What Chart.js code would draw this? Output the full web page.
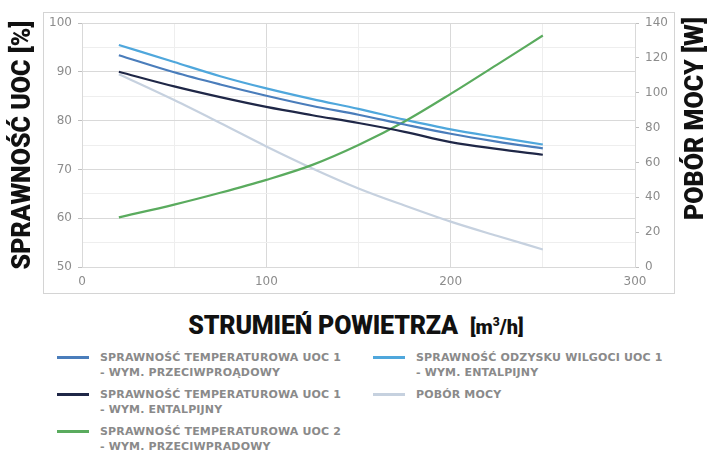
<!DOCTYPE html>
<html>
<head>
<meta charset="utf-8">
<script src="https://cdn.jsdelivr.net/npm/chart.js@4.4.1/dist/chart.umd.min.js"></script>
<style>
  body { margin: 0; background: #fff; }
  #wrap { position: relative; width: 708px; height: 450px; overflow: hidden; }
  #chartBox { position: absolute; left: 0; top: 0; width: 708px; height: 300px; }
  #xtitle { position: absolute; left: 0; top: 306px; width: 712px; text-align: center;
    font-family: Roboto, sans-serif; font-weight: 900; font-size: 25px; color: #111; line-height: 32px; letter-spacing: -0.2px; }
  #xtitle .unit { font-size: 20px; margin-left: 12px; letter-spacing: 0; }
  .col { position: absolute; top: 350px; }
  .item { position: relative; padding-left: 43px; margin-bottom: 7px;
    font-family: "DejaVu Sans", sans-serif; font-weight: bold; font-size: 11px; line-height: 15px; color: #8a8a8a; letter-spacing: 0.15px; }
  .item .sw { position: absolute; left: 0; top: 6px; width: 32px; height: 3px; }
</style>
</head>
<body>
<div id="wrap">
  <div id="chartBox"><canvas id="myChart"></canvas></div>
  <div id="xtitle">STRUMIEŃ POWIETRZA<span class="unit">[m<sup style="font-size:12px">3</sup>/h]</span></div>
  <div class="col" id="col1" style="left:57px"></div>
  <div class="col" id="col2" style="left:373px"></div>
</div>
<script>
// air flow [m3/h]
var airflow = [20, 50, 75, 100, 125, 150, 175, 200, 225, 250];

// efficiency [%]
var tempUoc1Counter = [93.4, 89.9, 87.4, 85.1, 83.0, 81.2, 79.2, 77.3, 75.7, 74.3];
var tempUoc1Enthalpy = [90.0, 87.0, 84.8, 82.8, 81.1, 79.5, 77.7, 75.6, 74.2, 73.0];
var moistUoc1Enthalpy = [95.5, 92.0, 89.1, 86.6, 84.4, 82.4, 80.2, 78.2, 76.6, 75.1];
var paleSeries = [89.5, 84.2, 79.5, 74.7, 70.2, 66.1, 62.6, 59.3, 56.4, 53.6];
// right axis [W]
var greenSeries = [28.5, 35.8, 42.6, 50.0, 58.6, 70.0, 83.5, 99.3, 116.0, 132.8];

var xTicks = [0, 100, 200, 300];
var leftTicks = [50, 60, 70, 80, 90, 100];
var rightTicks = [0, 20, 40, 60, 80, 100, 120, 140];

var labels = [
  "SPRAWNOŚĆ TEMPERATUROWA UOC 1<br>- WYM. PRZECIWPROĄDOWY",
  "SPRAWNOŚĆ TEMPERATUROWA UOC 1<br>- WYM. ENTALPIJNY",
  "SPRAWNOŚĆ TEMPERATUROWA UOC 2<br>- WYM. PRZECIWPRĄDOWY",
  "SPRAWNOŚĆ ODZYSKU WILGOCI UOC 1<br>- WYM. ENTALPIJNY",
  "POBÓR MOCY"
];
var colors = ["#4a7dbb", "#1f2747", "#5aab5e", "#4fa7dc", "#c6d1df"];

function toPoints(ys) {
  return airflow.map(function (x, i) { return { x: x, y: ys[i] }; });
}

var gridMajor = "#d9d9d9";
var gridMinor = "#eeeeee";

var boxAndTitles = {
  id: "boxAndTitles",
  beforeDraw: function (chart) {
    var a = chart.chartArea, ctx = chart.ctx;
    ctx.save();
    ctx.strokeStyle = "#d4d4d4";
    ctx.lineWidth = 1;
    ctx.strokeRect(a.left - 38.5, a.top - 10.5, (a.right + 40) - (a.left - 38), (a.bottom + 27) - (a.top - 10));
    ctx.restore();
  },
  afterDraw: function (chart) {
    var a = chart.chartArea, ctx = chart.ctx;
    ctx.save();
    ctx.fillStyle = "#111";
    ctx.font = "900 25px Roboto";
    ctx.textBaseline = "middle";
    ctx.translate(24, (a.top + a.bottom) / 2);
    ctx.rotate(-Math.PI / 2);
    ctx.textAlign = "center";
    ctx.fillText("SPRAWNOŚĆ UOC [%]", 0, 0);
    ctx.restore();
    ctx.save();
    ctx.fillStyle = "#111";
    ctx.font = "900 25px Roboto";
    ctx.textBaseline = "middle";
    ctx.translate(697, a.top - 6);
    ctx.rotate(-Math.PI / 2);
    ctx.textAlign = "right";
    ctx.fillText("POBÓR MOCY [W]", 0, 0);
    ctx.restore();
  }
};

var tickFont = { family: "DejaVu Sans", size: 12 };

var ctx = document.getElementById("myChart");
var myChart = new Chart(ctx, {
  type: "line",
  data: {
    datasets: [
      { label: labels[0], data: toPoints(tempUoc1Counter), borderColor: colors[0], yAxisID: "y" },
      { label: labels[1], data: toPoints(tempUoc1Enthalpy), borderColor: colors[1], yAxisID: "y" },
      { label: labels[2], data: toPoints(greenSeries), borderColor: colors[2], yAxisID: "y1" },
      { label: labels[3], data: toPoints(moistUoc1Enthalpy), borderColor: colors[3], yAxisID: "y" },
      { label: labels[4], data: toPoints(paleSeries), borderColor: colors[4], yAxisID: "y" }
    ]
  },
  options: {
    responsive: true,
    maintainAspectRatio: false,
    animation: false,
    layout: { padding: { left: 42, right: 33, top: 23, bottom: 6 } },
    plugins: { legend: { display: false }, tooltip: { enabled: false } },
    elements: {
      line: { borderWidth: 2.2, fill: false, cubicInterpolationMode: "monotone" },
      point: { radius: 0 }
    },
    scales: {
      x: {
        type: "linear", min: 0, max: 300,
        afterFit: function (s) { s.height = 27; },
        afterBuildTicks: function (s) {
          s.ticks = [0, 50, 100, 150, 200, 250, 300].map(function (v) { return { value: v }; });
        },
        ticks: {
          font: tickFont, color: "#8c8c8c", padding: 8, maxRotation: 0,
          callback: function (v) { return xTicks.indexOf(v) >= 0 ? String(v) : ""; }
        },
        grid: {
          color: function (c) { return c.tick && c.tick.value % 100 === 0 ? gridMajor : gridMinor; },
          tickLength: 0
        },
        border: { color: gridMajor }
      },
      y: {
        position: "left", min: 50, max: 100,
        afterFit: function (s) { s.width = 40; },
        afterBuildTicks: function (s) {
          var t = [];
          for (var v = 50; v <= 100; v += 5) t.push({ value: v });
          s.ticks = t;
        },
        ticks: {
          font: tickFont, color: "#8c8c8c", padding: 6,
          callback: function (v) { return leftTicks.indexOf(v) >= 0 ? String(v) : ""; }
        },
        grid: {
          color: function (c) { return c.tick && c.tick.value % 10 === 0 ? gridMajor : gridMinor; },
          tickColor: function (c) { return c.tick && c.tick.value % 10 === 0 ? "#bfbfbf" : "rgba(0,0,0,0)"; },
          tickLength: 4
        },
        border: { color: gridMajor }
      },
      y1: {
        position: "right", min: 0, max: 140,
        afterFit: function (s) { s.width = 40; },
        afterBuildTicks: function (s) {
          s.ticks = rightTicks.map(function (v) { return { value: v }; });
        },
        ticks: { font: tickFont, color: "#8c8c8c", padding: 6 },
        grid: { drawOnChartArea: false, tickColor: "#bfbfbf", tickLength: 4 },
        border: { color: gridMajor }
      }
    }
  },
  plugins: [boxAndTitles]
});

// legend in two columns
var order = [[0, 1, 2], [3, 4]];
order.forEach(function (idxs, c) {
  var col = document.getElementById("col" + (c + 1));
  idxs.forEach(function (i) {
    var d = document.createElement("div");
    d.className = "item";
    d.innerHTML = '<span class="sw" style="background:' + colors[i] + '"></span>' + labels[i];
    col.appendChild(d);
  });
});
</script>
</body>
</html>
